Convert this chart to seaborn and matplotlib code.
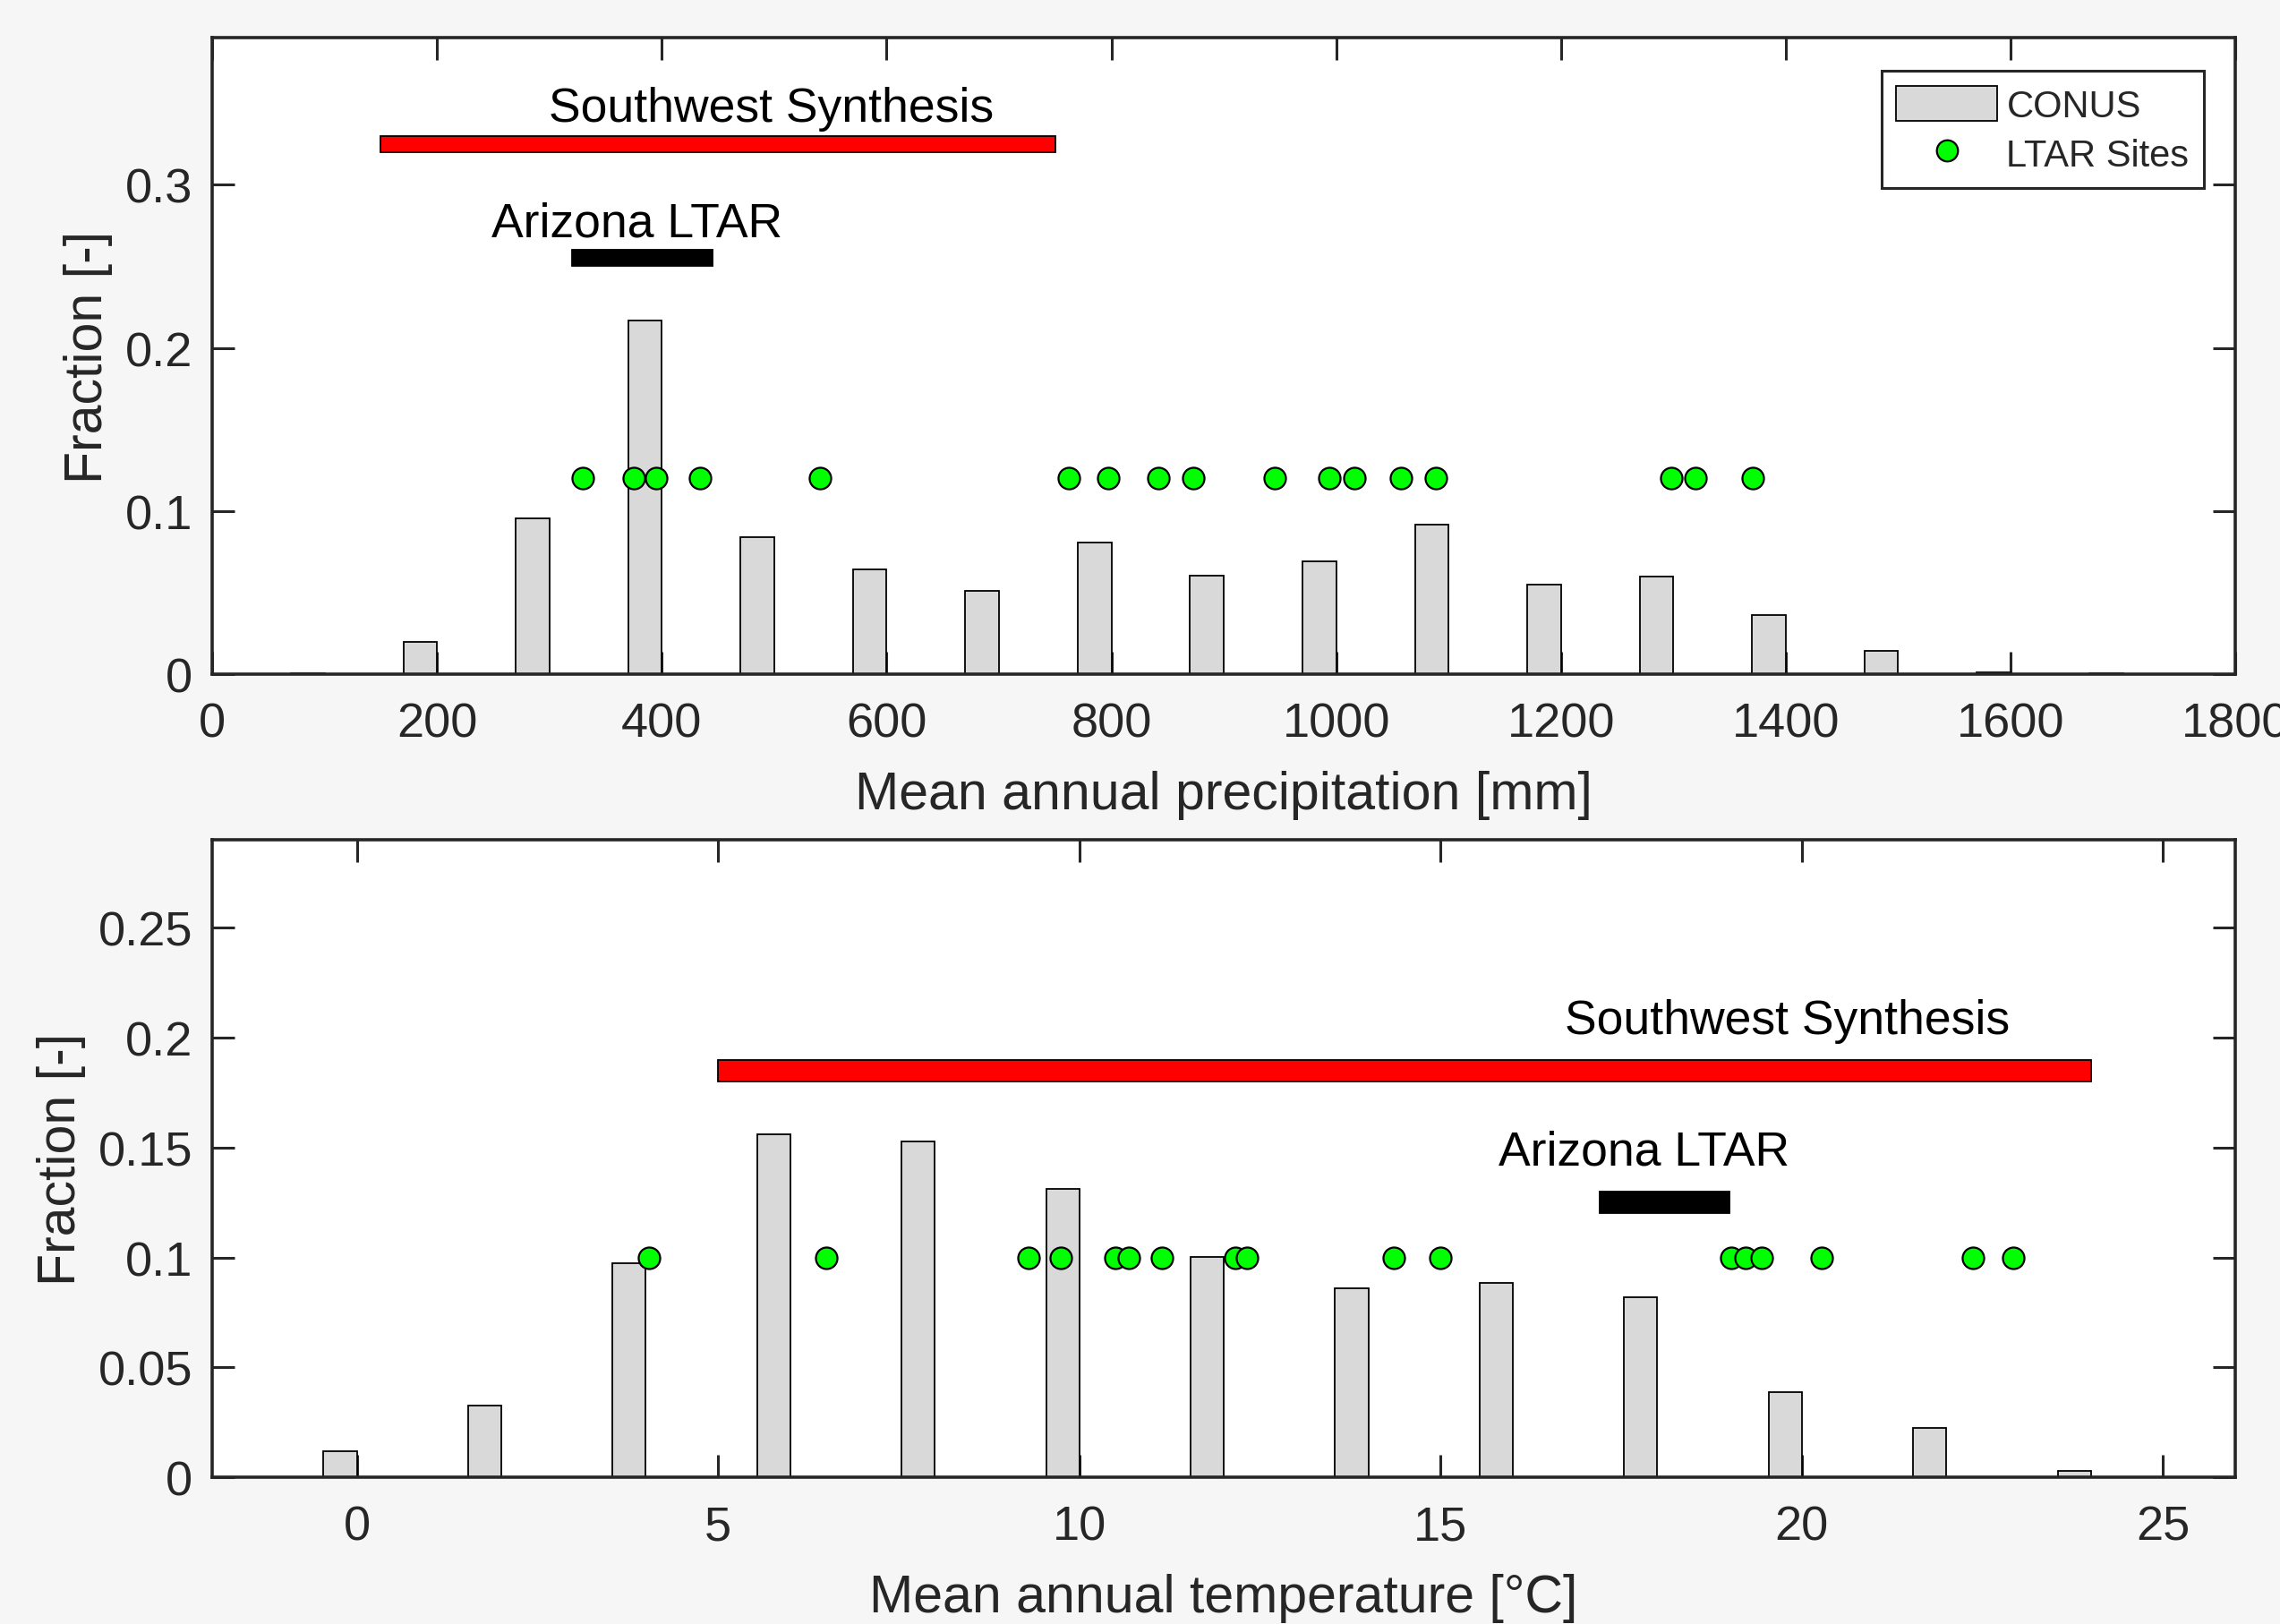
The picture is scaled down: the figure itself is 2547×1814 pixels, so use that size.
import matplotlib
matplotlib.use('Agg')
import matplotlib.pyplot as plt
from matplotlib.patches import Patch
from matplotlib.lines import Line2D
import seaborn as sns

# CONUS histogram, precipitation (bin right edge [mm], fraction)
precip_bins = [100, 200, 300, 400, 500, 600, 700, 800, 900, 1000,
               1100, 1200, 1300, 1400, 1500, 1600, 1700]
precip_frac = [0.0003, 0.020, 0.0957, 0.217, 0.0841, 0.064, 0.0508, 0.0808, 0.0603, 0.0693,
               0.0917, 0.0549, 0.0598, 0.0361, 0.0144, 0.0013, 0.0005]

# CONUS histogram, temperature (bin right edge [degC], fraction)
temp_bins = [0, 2, 4, 6, 8, 10, 12, 14, 16, 18, 20, 22, 24]
temp_frac = [0.0118, 0.0325, 0.0975, 0.156, 0.1527, 0.131, 0.1003, 0.0858,
             0.0884, 0.0818, 0.0386, 0.0222, 0.0029]

# LTAR sites
ltar_precip = [330, 375, 395, 434, 541, 762, 797, 842, 873, 945, 994, 1016,
               1058, 1089, 1298, 1320, 1371]
ltar_temp = [4.05, 6.5, 9.3, 9.75, 10.5, 10.68, 11.14, 12.16, 12.32, 14.35,
             15.0, 19.02, 19.22, 19.44, 20.28, 22.37, 22.93]

# ranges
sw_precip = (150, 750)
az_precip = (320, 445)
sw_temp = (5.0, 24.0)
az_temp = (17.2, 19.0)

sns.set_theme(style='ticks')
plt.rcParams['font.family'] = ['Liberation Sans', 'DejaVu Sans']

INK = '#262626'
BAR = '#d9d9d9'
GREEN = '#00ff00'

fig = plt.figure(figsize=(25.47, 18.15), dpi=100, facecolor='#f6f6f6')
ax1 = fig.add_axes([0.0931, 0.5846, 0.8873, 0.3915])
ax2 = fig.add_axes([0.0931, 0.0904, 0.8873, 0.3921])


def draw_panel(ax, bins, frac, shift, width, sites, site_y):
    centers = [b - shift for b in bins]
    sns.barplot(x=centers, y=frac, native_scale=True, width=width,
                color=BAR, saturation=1, edgecolor='black', linewidth=1.3,
                ax=ax, zorder=2)
    sns.scatterplot(x=sites, y=[site_y] * len(sites), s=300, color=GREEN,
                    edgecolor='black', linewidth=1.6, ax=ax, zorder=4,
                    legend=False)


def range_bar(ax, rng, y, h, color):
    ax.barh(y, rng[1] - rng[0], left=rng[0], height=h, color=color,
            edgecolor='black', linewidth=1.3, zorder=3)


def style(ax, xlim, ylim, xticks, yticks, ylabels, xlabel):
    ax.set_facecolor('white')
    ax.set_xlim(*xlim)
    ax.set_ylim(*ylim)
    ax.set_xticks(xticks)
    ax.set_xticklabels([str(t) for t in xticks])
    ax.set_yticks(yticks)
    ax.set_yticklabels(ylabels)
    ax.set_xlabel(xlabel, fontsize=42.5, color=INK, labelpad=19)
    ax.set_ylabel('Fraction [-]', fontsize=42.5, color=INK, labelpad=10)
    ax.tick_params(direction='in', length=18, width=2.2, colors=INK,
                   labelsize=39, top=True, right=True)
    ax.tick_params(axis='x', pad=22)
    ax.tick_params(axis='y', pad=16)
    for s in ax.spines.values():
        s.set_visible(True)
        s.set_color(INK)
        s.set_linewidth(2.6)
    ax.grid(False)


# top panel: precipitation
draw_panel(ax1, precip_bins, precip_frac, 15, 0.3, ltar_precip, 0.12)
range_bar(ax1, sw_precip, 0.325, 0.01, '#ff0000')
range_bar(ax1, az_precip, 0.255, 0.01, 'black')
ax1.text(497, 0.3393, 'Southwest Synthesis', ha='center', va='baseline', fontsize=38.5, color='black')
ax1.text(378, 0.2687, 'Arizona LTAR', ha='center', va='baseline', fontsize=38.5, color='black')
style(ax1, (0, 1800), (0, 0.39), list(range(0, 1801, 200)), [0, 0.1, 0.2, 0.3],
      ['0', '0.1', '0.2', '0.3'], 'Mean annual precipitation [mm]')

handles = [Patch(facecolor=BAR, edgecolor='black', linewidth=1.3),
           Line2D([], [], marker='o', ls='none', markersize=17,
                  markerfacecolor=GREEN, markeredgecolor='black', markeredgewidth=1.6)]
leg = ax1.legend(handles, ['CONUS', 'LTAR Sites'], loc='upper right',
                 bbox_to_anchor=(0.9845, 0.948), borderaxespad=0, fontsize=30,
                 frameon=True, fancybox=False, handlelength=2.7, handleheight=1.05,
                 handletextpad=0.25, borderpad=0.4, labelspacing=0.3)
leg.get_frame().set_edgecolor(INK)
leg.get_frame().set_linewidth(2.2)
leg.get_frame().set_facecolor('white')
leg.get_frame().set_alpha(1)

# bottom panel: temperature
draw_panel(ax2, temp_bins, temp_frac, 0.23, 0.23, ltar_temp, 0.1)
range_bar(ax2, sw_temp, 0.185, 0.01, '#ff0000')
range_bar(ax2, az_temp, 0.125, 0.01, 'black')
ax2.text(19.8, 0.2021, 'Southwest Synthesis', ha='center', va='baseline', fontsize=38.5, color='black')
ax2.text(17.82, 0.1422, 'Arizona LTAR', ha='center', va='baseline', fontsize=38.5, color='black')
style(ax2, (-2, 26), (0, 0.29), [0, 5, 10, 15, 20, 25],
      [0, 0.05, 0.1, 0.15, 0.2, 0.25], ['0', '0.05', '0.1', '0.15', '0.2', '0.25'],
      'Mean annual temperature [°C]')

fig.savefig('out.png', dpi=100, facecolor=fig.get_facecolor())
